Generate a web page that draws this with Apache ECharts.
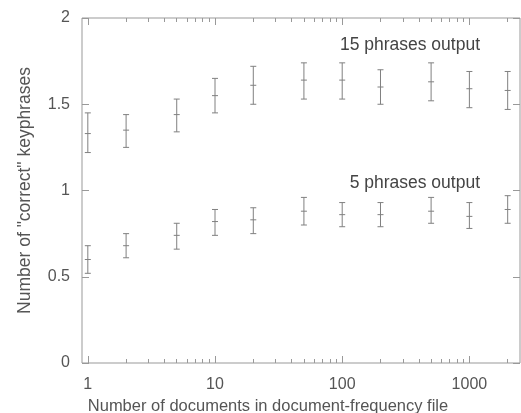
<!DOCTYPE html>
<html>
<head>
<meta charset="utf-8">
<script src="https://cdn.jsdelivr.net/npm/echarts@6/dist/echarts.min.js"></script>
<style>
html, body { margin: 0; padding: 0; background: #fff; }
#main { width: 521px; height: 413px; }
</style>
</head>
<body>
<div id="main"></div>
<script>
// number of documents in the document-frequency file
var docCounts = [1, 2, 5, 10, 20, 50, 100, 200, 500, 1000, 2000];

// 15 phrases output: low / mean / high
var low15  = [1.22, 1.25, 1.34, 1.45, 1.50, 1.53, 1.53, 1.50, 1.52, 1.48, 1.47];
var mean15 = [1.33, 1.35, 1.44, 1.55, 1.61, 1.64, 1.64, 1.60, 1.63, 1.59, 1.58];
var high15 = [1.45, 1.44, 1.53, 1.65, 1.72, 1.74, 1.74, 1.70, 1.74, 1.69, 1.69];

// 5 phrases output: low / mean / high
var low5  = [0.52, 0.61, 0.66, 0.74, 0.75, 0.80, 0.79, 0.79, 0.81, 0.78, 0.81];
var mean5 = [0.60, 0.68, 0.74, 0.82, 0.83, 0.88, 0.86, 0.86, 0.88, 0.85, 0.89];
var high5 = [0.68, 0.75, 0.81, 0.89, 0.90, 0.96, 0.93, 0.93, 0.96, 0.93, 0.97];

var xMajor = [1, 10, 100, 1000];
var xMinor = [2, 3, 4, 5, 6, 7, 8, 9, 20, 30, 40, 50, 60, 70, 80, 90,
              200, 300, 400, 500, 600, 700, 800, 900, 2000];

var font = 'Liberation Sans';
var txt = '#555';
var lineCol = '#999';
var barCol = '#808080';

function rows(lo, mid, hi) {
    return docCounts.map(function (d, i) { return [d, lo[i], mid[i], hi[i]]; });
}

function errorBar(params, api) {
    var x = api.value(0);
    var lo = api.coord([x, api.value(1)]);
    var mid = api.coord([x, api.value(2)]);
    var hi = api.coord([x, api.value(3)]);
    var w = 3;
    var st = { stroke: barCol, lineWidth: 1 };
    return {
        type: 'group',
        children: [
            { type: 'line', shape: { x1: lo[0], y1: lo[1], x2: hi[0], y2: hi[1] }, style: st },
            { type: 'line', shape: { x1: lo[0] - w, y1: lo[1], x2: lo[0] + w, y2: lo[1] }, style: st },
            { type: 'line', shape: { x1: hi[0] - w, y1: hi[1], x2: hi[0] + w, y2: hi[1] }, style: st },
            { type: 'line', shape: { x1: mid[0] - w, y1: mid[1], x2: mid[0] + w, y2: mid[1] }, style: st }
        ]
    };
}

function xAxisDef(pos, ticks, len, withLabel) {
    return {
        type: 'log',
        logBase: 10,
        min: 0.9,
        max: 2500,
        position: pos,
        axisLine: { show: false },
        splitLine: { show: false },
        axisTick: { show: true, inside: true, length: len, customValues: ticks, lineStyle: { color: lineCol } },
        axisLabel: withLabel ? {
            show: true, customValues: ticks, margin: 14, color: txt, fontFamily: font, fontSize: 16,
            formatter: function (v) { return String(Math.round(v)); }
        } : { show: false },
        name: withLabel ? 'Number of documents in document-frequency file' : '',
        nameLocation: 'middle',
        nameGap: 33,
        nameTextStyle: { color: txt, fontFamily: font, fontSize: 16.5, padding: [0, 66, 0, 0] }
    };
}

function yAxisDef(pos, withLabel) {
    return {
        type: 'value',
        min: 0,
        max: 2,
        interval: 0.5,
        position: pos,
        axisLine: { show: false },
        splitLine: { show: false },
        axisTick: { show: true, inside: true, length: 7, lineStyle: { color: lineCol } },
        axisLabel: withLabel ? { show: true, margin: 12, color: txt, fontFamily: font, fontSize: 16 } : { show: false },
        name: withLabel ? 'Number of "correct" keyphrases' : '',
        nameLocation: 'middle',
        nameGap: 48,
        nameTextStyle: { color: txt, fontFamily: font, fontSize: 17.5 }
    };
}

var myChart = echarts.init(document.getElementById('main'));
var option = {
    backgroundColor: '#fff',
    animation: false,
    grid: {
        left: 82, right: 1, top: 18, bottom: 50,
        outerBoundsMode: 'none',
        containLabel: false,
        show: true, borderColor: lineCol, borderWidth: 1, backgroundColor: 'transparent'
    },
    xAxis: [
        xAxisDef('bottom', xMajor, 7, true),
        xAxisDef('bottom', xMinor, 4, false),
        xAxisDef('top', xMajor, 7, false),
        xAxisDef('top', xMinor, 4, false)
    ],
    yAxis: [
        yAxisDef('left', true),
        yAxisDef('right', false)
    ],
    graphic: [
        { type: 'text', right: 41, top: 36, style: { text: '15 phrases output', fill: '#444', font: '17.5px "Liberation Sans"' } },
        { type: 'text', right: 41, top: 174, style: { text: '5 phrases output', fill: '#444', font: '17.5px "Liberation Sans"' } }
    ],
    series: [
        { name: '15 phrases output', type: 'custom', renderItem: errorBar, data: rows(low15, mean15, high15), encode: { x: 0, y: [1, 2, 3] } },
        { name: '5 phrases output', type: 'custom', renderItem: errorBar, data: rows(low5, mean5, high5), encode: { x: 0, y: [1, 2, 3] } }
    ]
};
myChart.setOption(option);
</script>
</body>
</html>
